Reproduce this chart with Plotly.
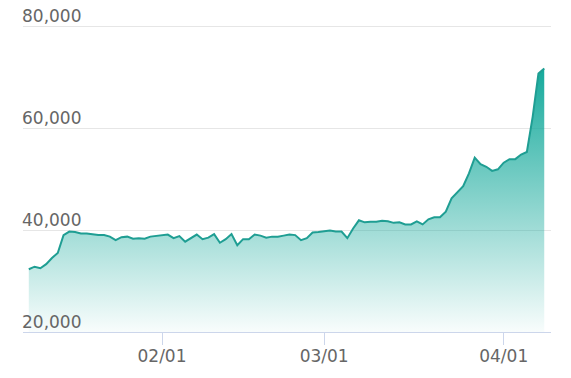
import pandas as pd
import plotly.graph_objects as go

start_date = "2021-01-09"
values_k = [
    # Jan 9 - Jan 31
    32.3, 32.8, 32.5, 33.3, 34.5, 35.5, 39.0, 39.7, 39.6, 39.3, 39.3, 39.1,
    39.0, 39.0, 38.7, 38.0, 38.6, 38.7, 38.3, 38.4, 38.3, 38.7, 38.8,
    # Feb 1 - Feb 28
    38.9, 39.1, 38.4, 38.8, 37.7, 38.4, 39.1, 38.2, 38.5, 39.2, 37.5, 38.2,
    39.2, 37.0, 38.2, 38.2, 39.1, 38.9, 38.5, 38.7, 38.7, 38.9, 39.1, 39.0,
    38.0, 38.4, 39.5, 39.6,
    # Mar 1 - Mar 31
    39.7, 39.9, 39.7, 39.7, 38.4, 40.3, 41.9, 41.5, 41.6, 41.6, 41.8, 41.7,
    41.4, 41.5, 41.1, 41.1, 41.7, 41.1, 42.1, 42.5, 42.5, 43.6, 46.2, 47.5,
    48.6, 51.1, 54.2, 52.9, 52.4, 51.6, 51.9,
    # Apr 1 - Apr 8
    53.2, 53.9, 53.9, 54.8, 55.3, 62.2, 70.7, 71.7,
]
values = [v * 1000 for v in values_k]
dates = pd.date_range(start_date, periods=len(values), freq="D")

x_tickvals = ["2021-02-01", "2021-03-01", "2021-04-01"]
x_ticktext = ["02/01", "03/01", "04/01"]
y_tickvals = [20000, 40000, 60000, 80000]
y_ticktext = ["20,000", "40,000", "60,000", "80,000"]

LINE = "#1f9e93"
FONT = dict(family="DejaVu Sans", size=17, color="#666666")

fig = go.Figure()
fig.add_trace(go.Scatter(
    x=dates, y=values, mode="lines",
    line=dict(color=LINE, width=2),
    fill="tozeroy",
    fillgradient=dict(
        type="vertical", start=18500, stop=72000,
        colorscale=[[0, "rgba(20,169,155,0.0)"], [1, "rgba(20,169,155,1)"]],
    ),
    showlegend=False, hoverinfo="skip",
))

fig.update_layout(
    width=571, height=378,
    margin=dict(l=23, r=20, t=21, b=46),
    paper_bgcolor="white", plot_bgcolor="white",
    font=FONT,
    xaxis=dict(
        range=["2021-01-08", "2021-04-09 04:00"],
        tickvals=x_tickvals, ticktext=x_ticktext,
        showgrid=False, zeroline=False, automargin=False,
        showline=True, linecolor="#ccd6eb", linewidth=1,
        ticks="outside", ticklen=12, tickcolor="#ccd6eb", tickwidth=1,
        ticklabelstandoff=-3,
        tickfont=FONT,
    ),
    yaxis=dict(
        range=[19990, 81000],
        tickvals=y_tickvals, ticktext=y_ticktext,
        showgrid=True, gridcolor="#e6e6e6", gridwidth=1,
        zeroline=False, showline=False, automargin=False,
        ticklabelposition="inside top", ticklabeloverflow="allow",
        ticklabelstandoff=-4, ticklabelshift=2,
        tickfont=FONT,
    ),
)

fig.write_html("out.html")
